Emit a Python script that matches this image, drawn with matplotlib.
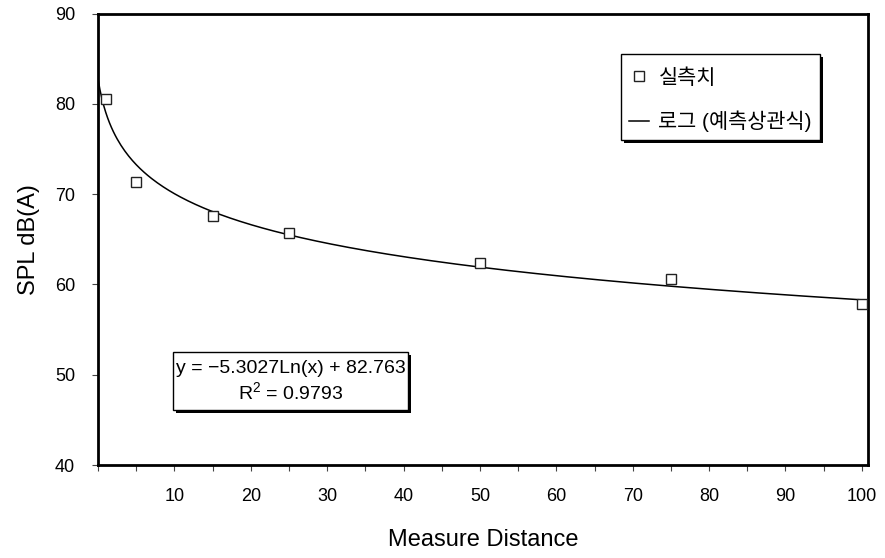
import numpy as np
import matplotlib
matplotlib.use("Agg")
import matplotlib.pyplot as plt
import matplotlib.patheffects as pe
from matplotlib.patches import Rectangle

plt.rcParams['font.family'] = ['Liberation Sans', 'Noto Sans CJK KR', 'DejaVu Sans']
plt.rcParams['mathtext.fontset'] = 'custom'
plt.rcParams['mathtext.rm'] = 'Liberation Sans'

# measured points
distance = [1, 5, 15, 25, 50, 75, 100]
spl = [80.5, 71.3, 67.6, 65.7, 62.4, 60.6, 57.8]

# log fit from the chart
fit_a = -5.3027
fit_b = 82.763
fit_r2 = 0.9793
# the trendline in the source image sits one unit to the left of Ln(x)
curve_shift = 1.0

x_ticks = list(range(0, 101, 5))
x_labels = ['' if (t % 10 or t == 0) else str(t) for t in x_ticks]
y_ticks = [40, 50, 60, 70, 80, 90]

W, H = 885, 558
fig = plt.figure(figsize=(W / 100, H / 100), dpi=100)
# axes box in pixels: left 98, right 868, top 13.5, bottom 465
ax = fig.add_axes([98 / W, (H - 465) / H, 770 / W, 451.5 / H])


def px_to_axes(x, y):
    # reference pixel -> axes fraction
    return (x - 98) / 770, (465 - y) / 451.5


xs = np.linspace(0, 100, 400)
ax.plot(xs, fit_a * np.log(xs + curve_shift) + fit_b, color='black', lw=1.1,
        label='로그 (예측상관식)', zorder=2)
ax.plot(distance, spl, linestyle='none', marker='s', markersize=7.5,
        markerfacecolor='white', markeredgecolor='#222222', markeredgewidth=1.0,
        label='실측치', zorder=3, clip_on=False)

ax.set_xlim(0, 100.8)
ax.set_ylim(40, 90)
ax.set_xticks(x_ticks)
ax.set_xticklabels(x_labels)
ax.set_yticks(y_ticks)
ax.tick_params(axis='both', direction='out', length=4.5, width=0.8,
               color='#444444', labelsize=13, pad=12)
for s in ax.spines.values():
    s.set_linewidth(2)

ax.set_xlabel('Measure Distance', fontsize=17, labelpad=17)
ax.set_ylabel('SPL dB(A)', fontsize=17, labelpad=11)

shadow = [pe.SimplePatchShadow(offset=(2.2, -2.2), shadow_rgbFace='black', alpha=1),
          pe.Normal()]

# legend frame drawn by hand to get the uneven padding
lx0, ly0 = px_to_axes(621, 140)
lx1, ly1 = px_to_axes(820, 54)
frame = Rectangle((lx0, ly0), lx1 - lx0, ly1 - ly0, transform=ax.transAxes,
                  facecolor='white', edgecolor='black', lw=1.0, zorder=5)
frame.set_path_effects(shadow)
ax.add_patch(frame)

h, l = ax.get_legend_handles_labels()
leg = ax.legend(h[::-1], l[::-1], loc='center',
                bbox_to_anchor=px_to_axes(720.5, 100),
                frameon=False, fontsize=15, labelspacing=1.1,
                handlelength=0.96, handletextpad=0.45, borderpad=0.0)
leg.set_zorder(6)

# equation box
ex0, ey0 = px_to_axes(173, 410)
ex1, ey1 = px_to_axes(408, 352)
ebox = Rectangle((ex0, ey0), ex1 - ex0, ey1 - ey0, transform=ax.transAxes,
                 facecolor='white', edgecolor='black', lw=1.0, zorder=5)
ebox.set_path_effects(shadow)
ax.add_patch(ebox)
tx, ty = px_to_axes(290.5, 382)
ax.text(tx, ty, 'y = \u22125.3027Ln(x) + 82.763\nR$^2$ = %.4f' % fit_r2,
        transform=ax.transAxes, ha='center', va='center', fontsize=14,
        linespacing=1.25, multialignment='center', zorder=6)

fig.savefig('out.png', dpi=100)
